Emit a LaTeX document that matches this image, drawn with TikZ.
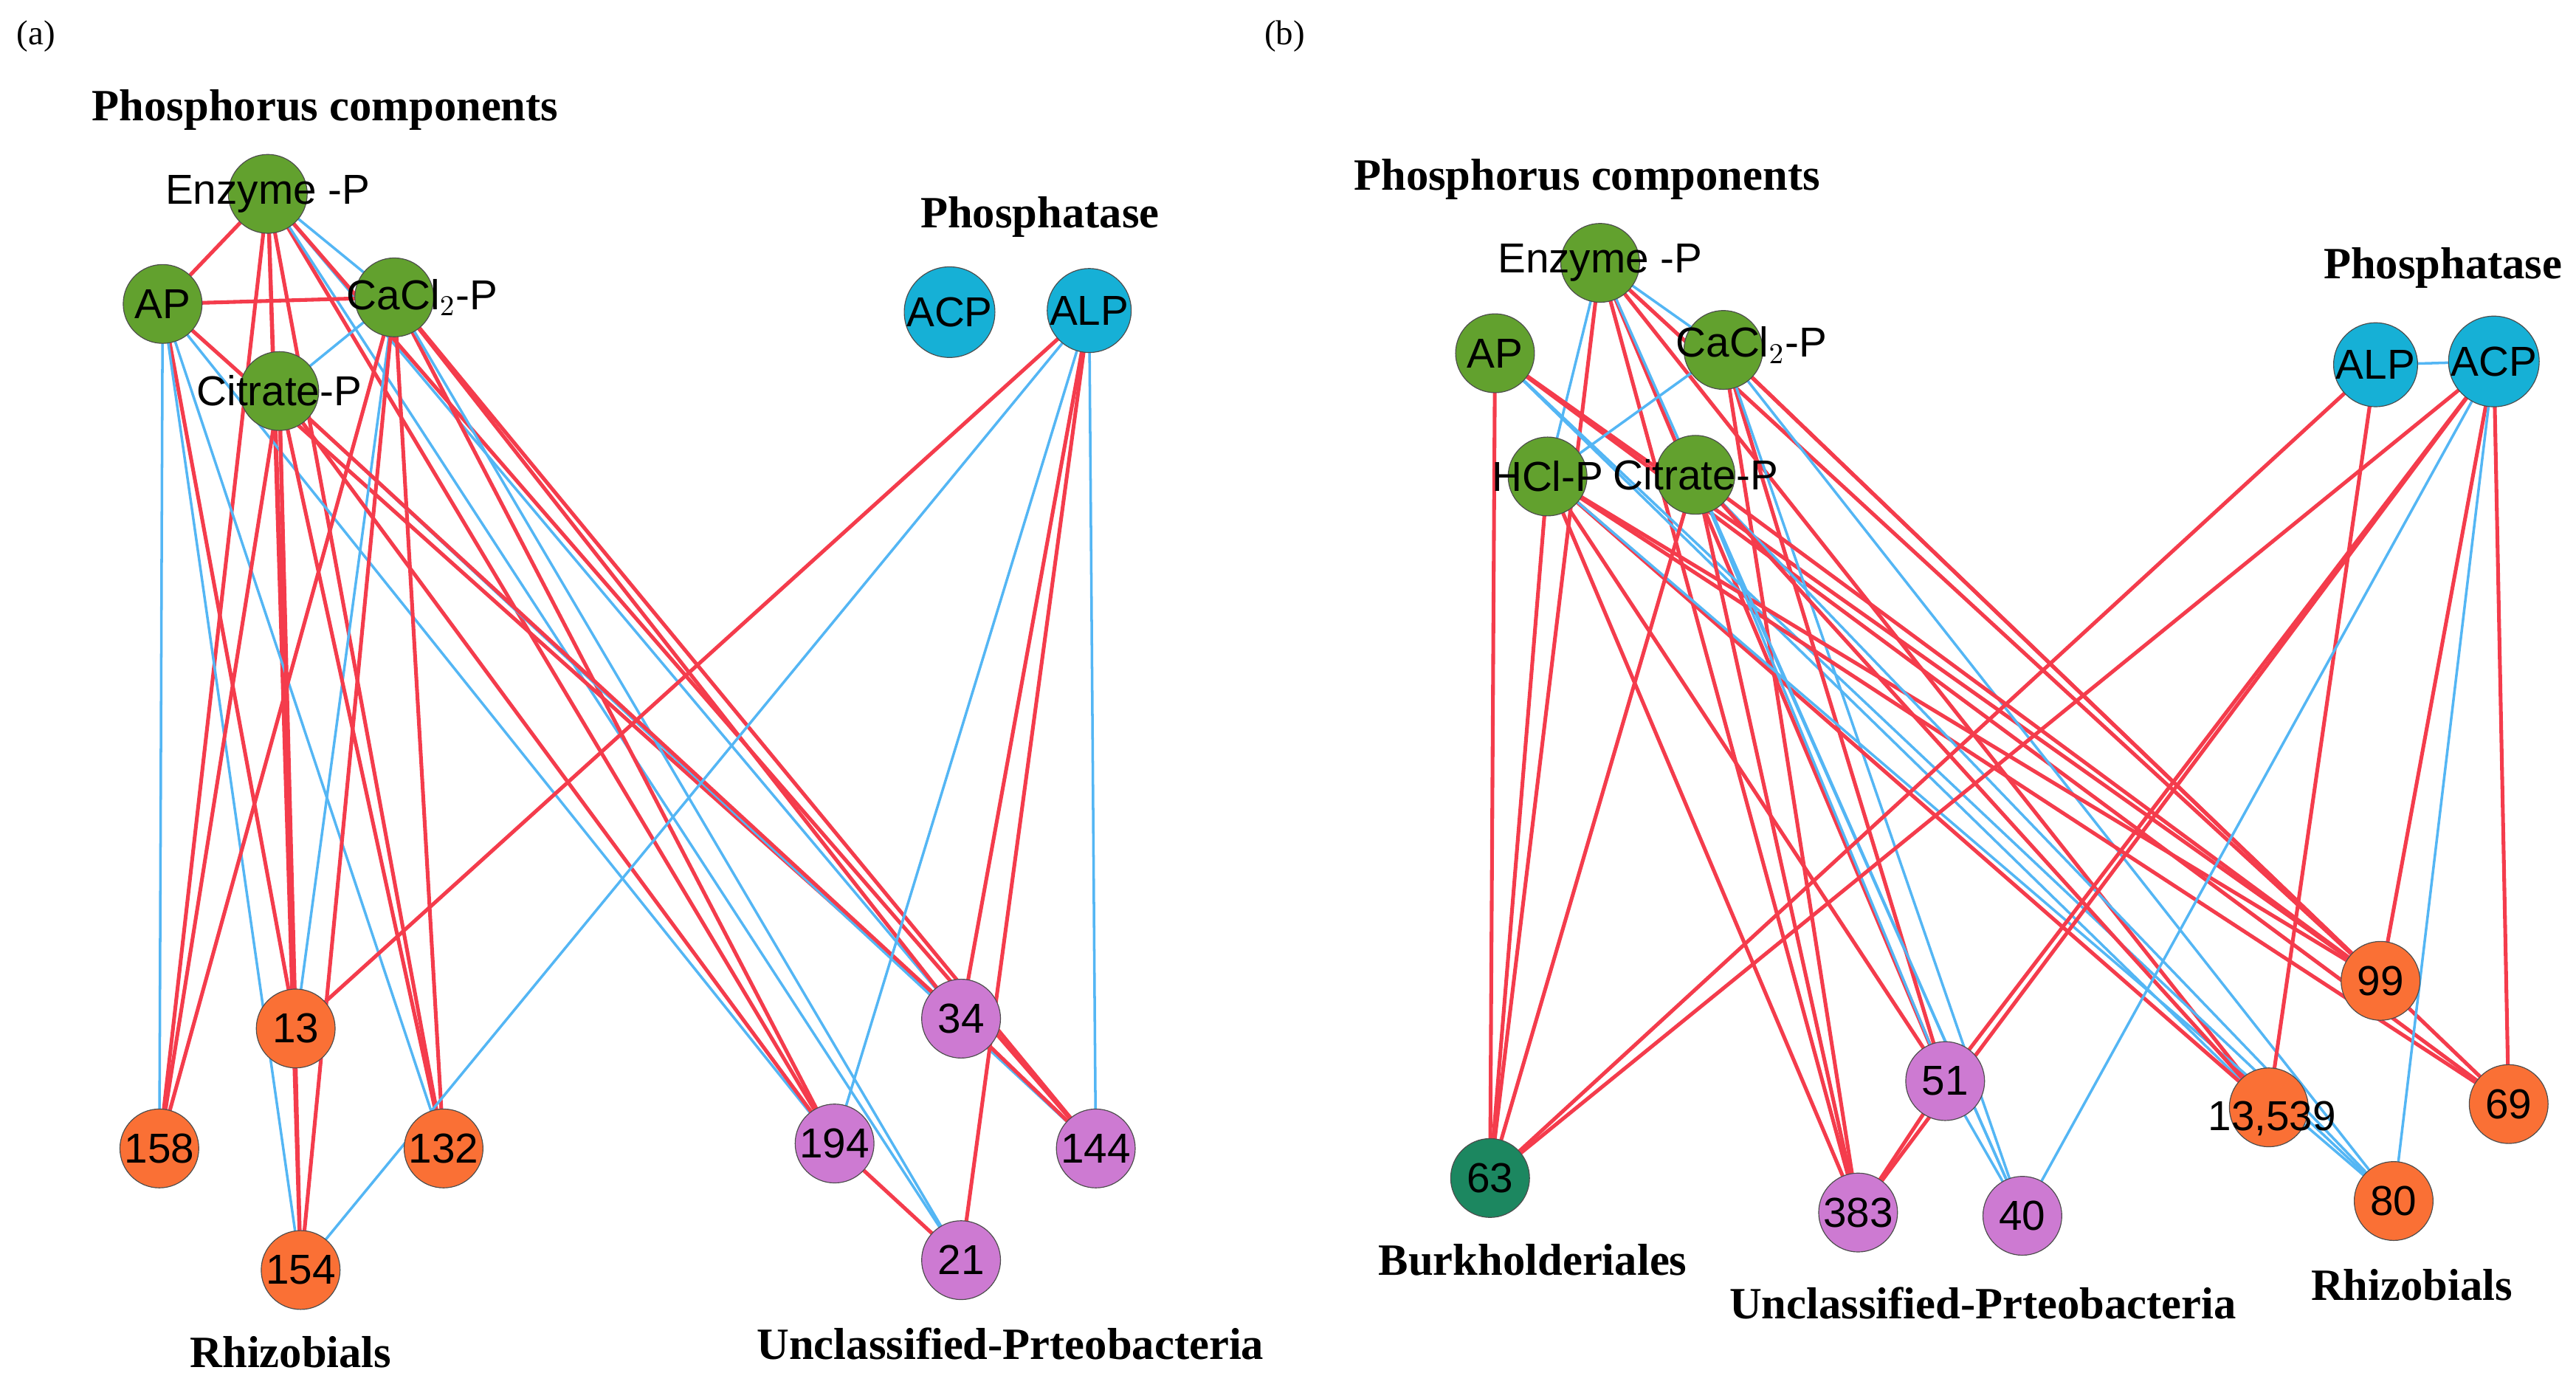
\documentclass[tikz,border=0pt]{standalone}
\usepackage{fontspec}
\setmainfont{Liberation Serif}
\newfontfamily\arialf{Liberation Sans}
\definecolor{pgreen}{RGB}{98,161,46}
\definecolor{pblue}{RGB}{22,176,214}
\definecolor{porange}{RGB}{250,112,53}
\definecolor{ppink}{RGB}{205,122,210}
\definecolor{pteal}{RGB}{28,135,96}
\definecolor{ered}{RGB}{244,60,76}
\definecolor{eblue}{RGB}{84,182,244}
\begin{document}
\begin{tikzpicture}[x=0.02cm, y=-0.02cm,
  nd/.style={circle, draw=black!70, line width=0.3pt, minimum size=0.96cm, inner sep=0pt},
  pc/.style={nd, fill=pgreen}, ph/.style={nd, fill=pblue}, rh/.style={nd, fill=porange},
  un/.style={nd, fill=ppink}, bu/.style={nd, fill=pteal},
  lbl/.style={font=\arialf\fontsize{14.5}{14.5}\selectfont},
  head/.style={font=\bfseries\fontsize{15.5}{16}\selectfont},
  r/.style={draw=ered, line width=1.3pt}, b/.style={draw=eblue, line width=0.9pt}]
\useasboundingbox (0,0) rectangle (1568,844);
\node[font=\fontsize{12}{12}\selectfont] (la) at (22,22) {(a)};
\node[font=\fontsize{12}{12}\selectfont] (lb) at (782,22) {(b)};
% panel (a)
\foreach \n/\st/\x/\y in {aE/pc/163/118, aAP/pc/99/185, aCa/pc/240/181, aCi/pc/170/238,
  aACP/ph/578/190, aALP/ph/663/189, a13/rh/180/626, a158/rh/97/699, a132/rh/270/699,
  a154/rh/183/773, a194/un/508/696, a34/un/585/620, a144/un/667/699, a21/un/585/767}
  \coordinate (\n) at (\x,\y);
\foreach \s/\t/\c in {aE/aAP/r, aE/aCa/b, aE/a158/r, aE/a13/r, aE/a154/r, aE/a132/r, aE/a194/r, aE/a34/b, aE/a21/b, aE/a144/r,
  aAP/aCa/r, aAP/a158/b, aAP/a13/r, aAP/a154/b, aAP/a132/b, aAP/a194/b, aAP/a34/r,
  aCa/aCi/b, aCa/a158/r, aCa/a13/b, aCa/a154/r, aCa/a132/r, aCa/a194/r, aCa/a34/r, aCa/a21/b, aCa/a144/r,
  aCi/a158/r, aCi/a13/r, aCi/a132/r, aCi/a194/r, aCi/a144/b, aCi/a34/r, aCi/a154/r,
  aALP/a13/r, aALP/a154/b, aALP/a194/b, aALP/a21/r, aALP/a34/r, aALP/a144/b, a194/a21/r, a34/a144/r}
  \draw[\c] (\s) -- (\t);
\foreach \n/\st/\tx in {aE/pc/{},aAP/pc/AP,aCa/pc/{},aCi/pc/{},aACP/ph/ACP,aALP/ph/ALP,a13/rh/13,a158/rh/158,
  a132/rh/132,a154/rh/154,a194/un/194,a34/un/34,a144/un/144,a21/un/21}
  \node[\st, lbl] (n\n) at (\n) {\tx};
\node[lbl] (tE) at (aE) {Enzyme -P};
\node[lbl] (tCa) at (257,181) {CaCl$_2$-P};
\node[lbl] (tCi) at (aCi) {Citrate-P};
\node[head] (hpa) at (198,67) {Phosphorus components};
\node[head] (hfa) at (633,132) {Phosphatase};
\node[head] (hra) at (177,823) {Rhizobials};
\node[head] (hua) at (615,818) {Unclassified-Prteobacteria};
% panel (b)
\foreach \n/\st/\x/\y in {bE/pc/974/160, bAP/pc/910/215, bCa/pc/1049/213, bH/pc/942/290, bCi/pc/1032/289,
  bALP/ph/1446/222, bACP/ph/1518/220, b63/bu/907/717, b383/un/1131/738, b40/un/1231/740, b51/un/1184/658,
  b135/rh/1381/674, b99/rh/1449/597, b69/rh/1527/672, b80/rh/1457/731}
  \coordinate (\n) at (\x,\y);
\foreach \s/\t/\c in {bE/bH/b, bE/bCa/b, bE/b63/r, bE/b383/r, bE/b51/r, bE/b99/r, bE/b40/b, bE/b135/r,
  bAP/b63/r, bAP/b99/r, bAP/b135/b, bAP/b80/b, bAP/b69/r,
  bCa/bH/b, bCa/b383/r, bCa/b51/r, bCa/b40/b, bCa/b99/r, bCa/b69/r, bCa/b80/b,
  bH/b63/r, bH/b51/r, bH/b383/r, bH/b135/r, bH/b80/b, bH/b69/r, bH/b99/r,
  bCi/b63/r, bCi/b383/r, bCi/b51/b, bCi/b40/b, bCi/b99/r, bCi/b80/b, bCi/b135/r,
  bALP/bACP/b, bALP/b63/r, bALP/b135/r,
  bACP/b63/r, bACP/b51/r, bACP/b383/r, bACP/b40/b, bACP/b99/r, bACP/b80/b, bACP/b69/r,
  b51/b383/r, b51/b40/b}
  \draw[\c] (\s) -- (\t);
\foreach \n/\st/\tx in {bE/pc/{},bAP/pc/AP,bCa/pc/{},bH/pc/{},bCi/pc/{},bALP/ph/ALP,bACP/ph/ACP,
  b63/bu/63,b383/un/383,b40/un/40,b51/un/51,b135/rh/{},b99/rh/99,b69/rh/69,b80/rh/80}
  \node[\st, lbl] (n\n) at (\n) {\tx};
\node[lbl] (uE) at (bE) {Enzyme -P};
\node[lbl] (uCa) at (1066,210) {CaCl$_2$-P};
\node[lbl] (uH) at (bH) {HCl-P};
\node[lbl] (uCi) at (bCi) {Citrate-P};
\node[lbl] (u135) at (1383,681) {13,539};
\node[head] (hpb) at (966,109) {Phosphorus components};
\node[head] (hfb) at (1487,163) {Phosphatase};
\node[head] (hbb) at (933,767) {Burkholderiales};
\node[head] (hub) at (1207,793) {Unclassified-Prteobacteria};
\node[head] (hrb) at (1468,782) {Rhizobials};
\end{tikzpicture}
\end{document}
